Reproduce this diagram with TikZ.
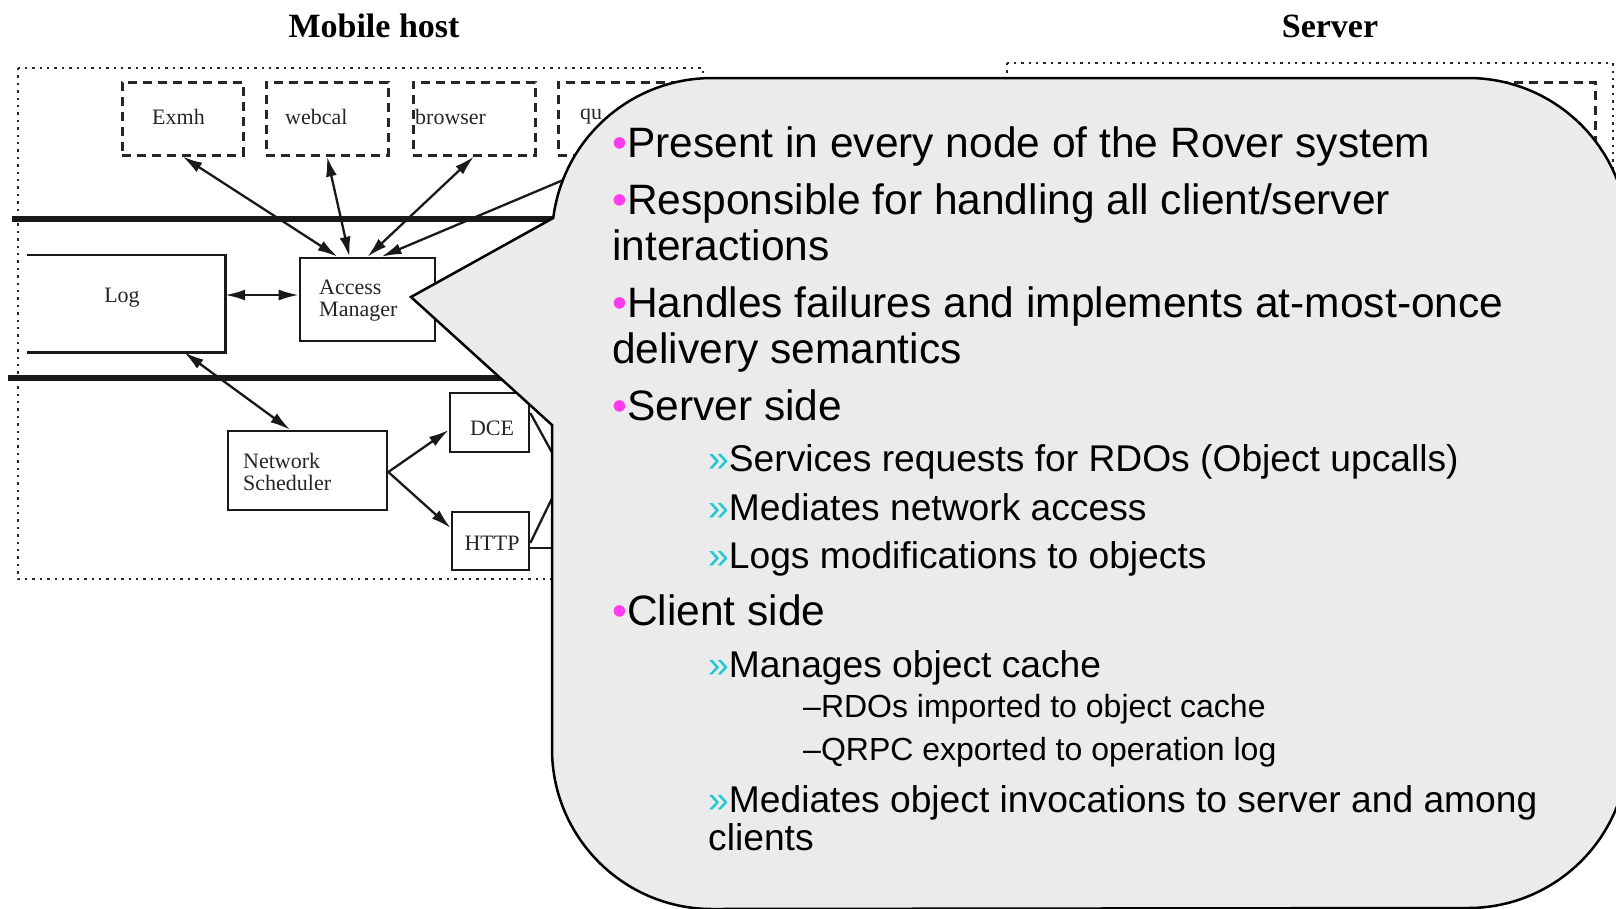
\documentclass[tikz,border=0pt]{standalone}
\usepackage{fontspec}
\setmainfont{Liberation Sans}
\newfontfamily\diagfont{Liberation Serif}
\usetikzlibrary{arrows.meta,calc}
\definecolor{pinkb}{RGB}{255,60,235}
\definecolor{cyanb}{RGB}{30,200,210}
\definecolor{callfill}{RGB}{235,235,235}
\begin{document}
\begin{tikzpicture}[x=1pt,y=-1pt,
  biarr/.style={arrows={Latex[length=20pt,width=11pt]-Latex[length=20pt,width=11pt]}},
  oneway/.style={arrows={-Latex[length=20pt,width=11pt]}},
  dotbox/.style={draw=black!85,line width=2.6pt,dash pattern=on 2.4pt off 5pt},
  dbox/.style={draw=black!85,line width=3pt,dash pattern=on 9pt off 6pt,inner sep=0},
  sbox/.style={draw=black!90,line width=2.6pt,inner sep=0},
  conn/.style={draw=black!90,line width=2.3pt},
  bus/.style={draw=black!90,line width=5.5pt},
  lab/.style={font=\diagfont\fontsize{22}{24}\selectfont,inner sep=0,text=black!85},
  ttl/.style={font=\diagfont\bfseries\fontsize{34}{36}\selectfont,inner sep=0,anchor=base},
  callout/.style={draw=black,line width=2.5pt,fill=callfill},
  lA/.style={anchor=base west,inner sep=0,font=\fontsize{42.5}{46}\selectfont},
  lB/.style={anchor=base west,inner sep=0,font=\fontsize{37.2}{40}\selectfont},
  lC/.style={anchor=base west,inner sep=0,font=\fontsize{32}{35}\selectfont}]
\useasboundingbox (0,0) rectangle (1616,908);
\fill[white] (0,0) rectangle (1616,908);

% titles
\node[ttl] (tmh) at (374,37) {Mobile host};
\node[ttl] (tsv) at (1330,37) {Server};

% enclosing dotted rectangles
\draw[dotbox] (18,68) rectangle (703,579);
\draw[dotbox] (1007,63) rectangle (1613,579);

% server inner dashed box
\node[dbox,minimum width=495pt,minimum height=78pt] (srvbox) at (1347.5,121) {};

% application boxes
\node[dbox,minimum width=121pt,minimum height=73pt] (exmh) at (182.5,118.5) {};
\node[dbox,minimum width=122pt,minimum height=73pt] (webcal) at (327,118.5) {};
\node[dbox,minimum width=122pt,minimum height=73pt] (browser) at (474,118.5) {};
\node[dbox,minimum width=122pt,minimum height=73pt] (qbox) at (619,118.5) {};
\node[lab,anchor=west] (lexmh) at (152,117) {Exmh};
\node[lab,anchor=west] (lwebcal) at (285,117) {webcal};
\node[lab,anchor=west] (lbrowser) at (415,117) {browser};
\node[lab,anchor=west] (lq) at (580,117) {qu};

% buses
\coordinate (b1w) at (12,219);
\coordinate (b1e) at (700,219);
\coordinate (b2w) at (8,378);
\coordinate (b2e) at (700,378);
\draw[bus] (b1w) -- (b1e);
\draw[bus] (b2w) -- (b2e);

% Log (open on the left)
\node[minimum width=198pt,minimum height=97pt,inner sep=0] (log) at (126,303.5) {};
\draw[sbox] (log.north west) -- (log.north east) -- (log.south east) -- (log.south west);
\node[lab] (llog) at (122,298) {Log};

% Access manager
\node[sbox,minimum width=135pt,minimum height=83pt] (am) at (367.5,299.5) {};
\node[lab,anchor=west,align=left] (lam) at (319,301) {Access\\[-2pt]Manager};

% Network scheduler, DCE, HTTP
\node[sbox,minimum width=159pt,minimum height=79pt] (ns) at (307.5,470.5) {};
\node[lab,anchor=west,align=left] (lns) at (243,472) {Network\\[-2pt]Scheduler};
\node[sbox,minimum width=79pt,minimum height=59pt] (dce) at (489.5,422.5) {};
\node[lab] (ldce) at (492,428) {DCE};
\node[sbox,minimum width=77pt,minimum height=58pt] (http) at (490.5,541) {};
\node[lab] (lhttp) at (492,543) {HTTP};

% connectors
\draw[conn,biarr] (exmh.south) -- ([xshift=-30pt]am.north);
\draw[conn,biarr] (webcal.south) -- ([xshift=-18pt]am.north);
\draw[conn,biarr] (browser.south) -- (am.north);
\draw[conn,biarr] (qbox.south) -- ([xshift=14pt]am.north);
\draw[conn,biarr] (log.east |- 0,295) -- ([yshift=4.5pt]am.west);
\draw[conn,biarr] ([xshift=58pt]log.south) -- ([xshift=-17.5pt]ns.north);
\draw[conn,oneway] ([yshift=-1.5pt]ns.east) -- ([yshift=-7.5pt]dce.west);
\draw[conn,oneway] ([yshift=-1.5pt]ns.east) -- ([yshift=13pt]http.west);
\coordinate (srvA) at (600,540);
\coordinate (srvB) at (590,420);
\coordinate (srvC) at (620,548);
\draw[conn] ([yshift=9.5pt]dce.east) -- (srvA);
\draw[conn] ([yshift=-2pt]http.east) -- (srvB);
\draw[conn] ([yshift=-7pt]http.east) -- (srvC);

% callout
\draw[callout] (411,297) -- (553.26,218)
  arc[start angle=172.8,end angle=90,radius=160pt] -- (1468,78)
  arc[start angle=90,end angle=0,radius=160pt] -- (1628,748)
  arc[start angle=0,end angle=-90,radius=160pt] -- (712,909)
  arc[start angle=-90,end angle=-180,radius=160pt] -- (552,425) -- cycle;

% callout text
\node[lA] (t1) at (612,157) {\textcolor{pinkb}{•}Present in every node of the Rover system};
\node[lA] (t2) at (612,214) {\textcolor{pinkb}{•}Responsible for handling all client/server};
\node[lA] (t3) at (612,260) {interactions};
\node[lA] (t4) at (612,317) {\textcolor{pinkb}{•}Handles failures and implements at-most-once};
\node[lA] (t5) at (612,363) {delivery semantics};
\node[lA] (t6) at (612,420) {\textcolor{pinkb}{•}Server side};
\node[lB] (t7) at (708,471) {\textcolor{cyanb}{»}Services requests for RDOs (Object upcalls)};
\node[lB] (t8) at (708,520) {\textcolor{cyanb}{»}Mediates network access};
\node[lB] (t9) at (708,568) {\textcolor{cyanb}{»}Logs modifications to objects};
\node[lA] (t10) at (612,625) {\textcolor{pinkb}{•}Client side};
\node[lB] (t11) at (708,677) {\textcolor{cyanb}{»}Manages object cache};
\node[lC] (t12) at (803,717) {–RDOs imported to object cache};
\node[lC] (t13) at (803,760) {–QRPC exported to operation log};
\node[lB] (t14) at (708,812) {\textcolor{cyanb}{»}Mediates object invocations to server and among};
\node[lB] (t15) at (708,850) {clients};
\end{tikzpicture}
\end{document}
